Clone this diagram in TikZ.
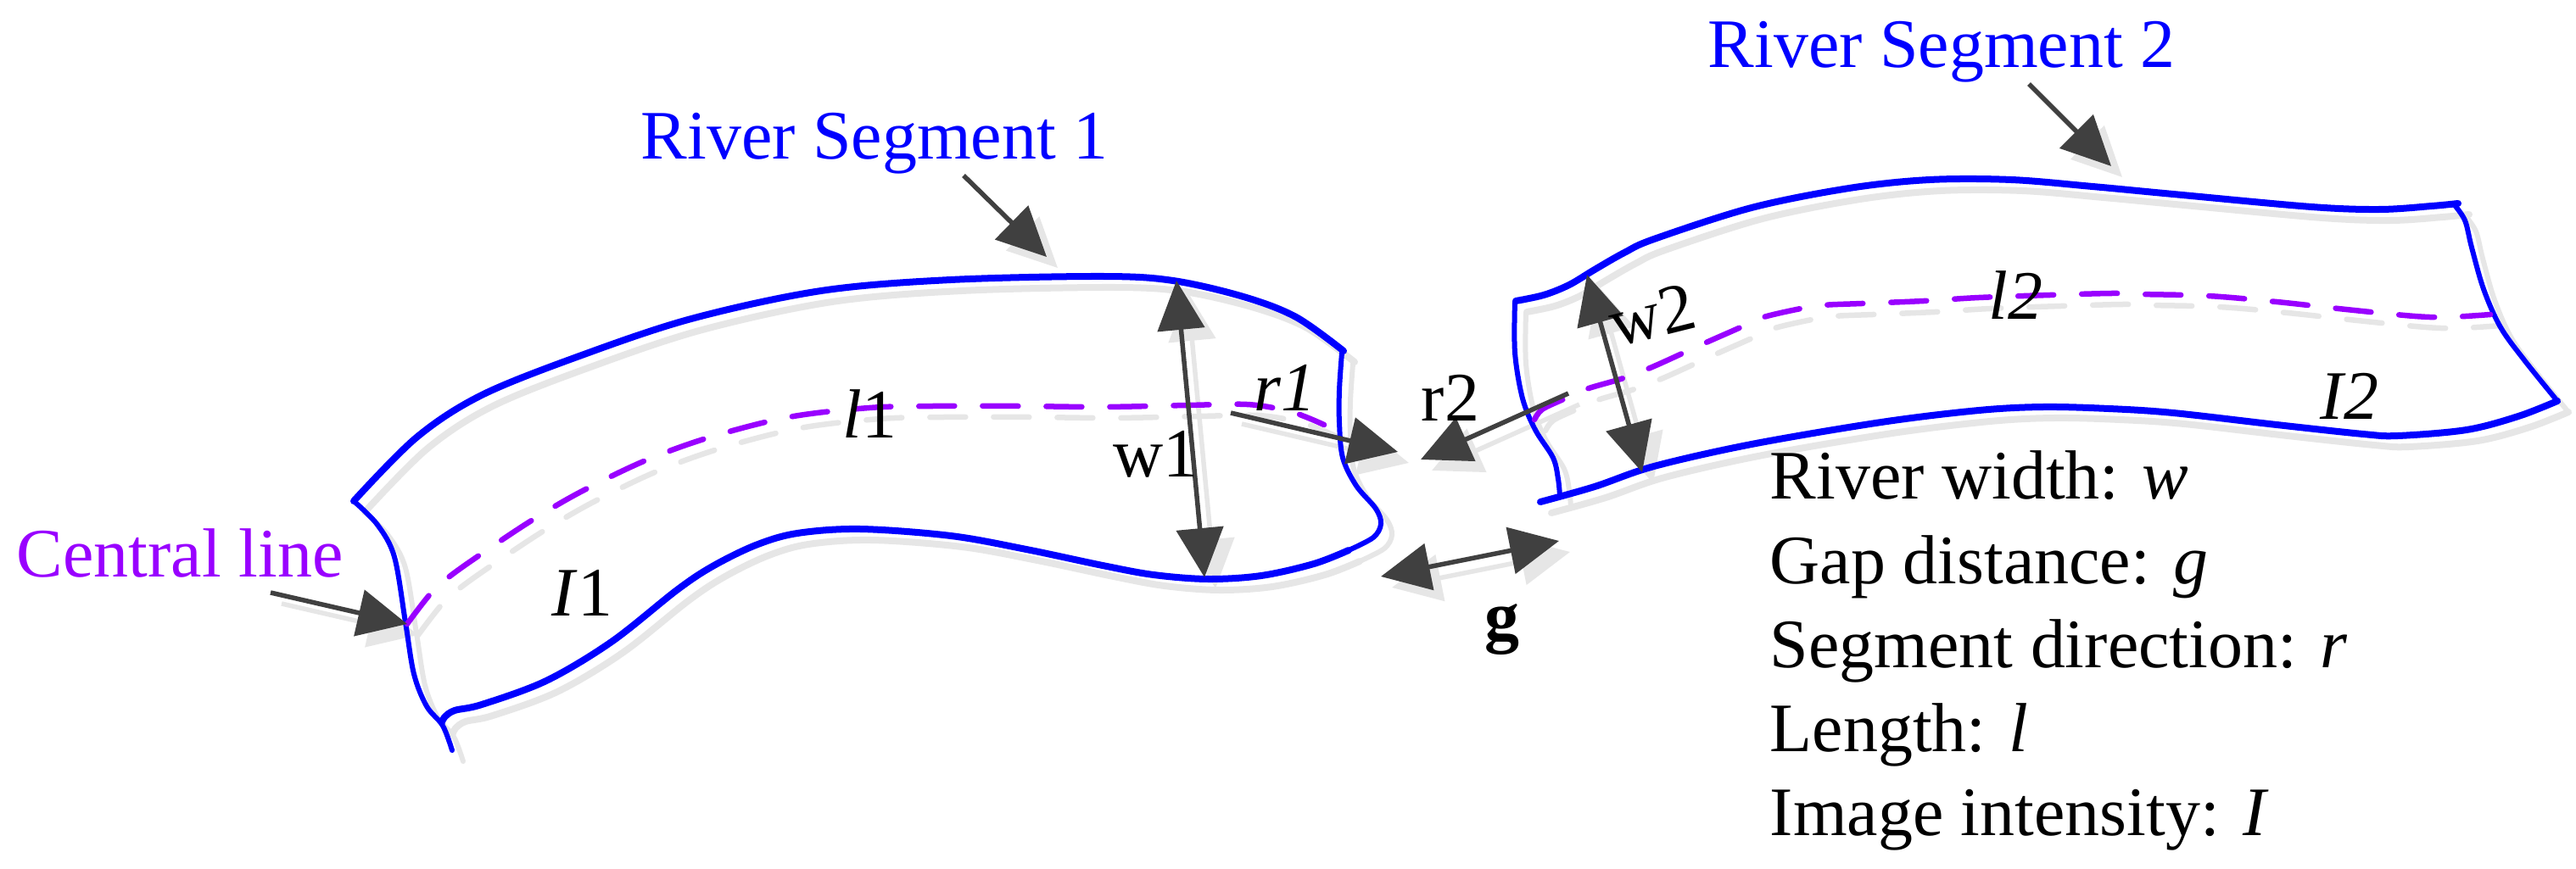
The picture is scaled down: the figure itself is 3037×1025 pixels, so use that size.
\documentclass[tikz,border=0pt]{standalone}
\usepackage{fontspec}
\setmainfont{Liberation Serif}
\usetikzlibrary{arrows.meta}
\definecolor{rblue}{RGB}{0,0,255}
\definecolor{cpurp}{RGB}{153,0,255}
\definecolor{agray}{RGB}{64,64,64}
\definecolor{shd}{RGB}{230,230,230}
\colorlet{cB}{rblue}\colorlet{cP}{cpurp}\colorlet{cA}{agray}
\newcommand{\lblfont}{\fontsize{23.3pt}{28pt}\selectfont}
\tikzset{
  thickedge/.style={draw=cB, line width=0.08cm, line cap=round, line join=round},
  thinedge/.style={draw=cB, line width=0.06cm, line cap=round, line join=round},
  cline/.style={draw=cP, line width=0.065cm, line cap=round, dash pattern=on 0.42cm off 0.33cm},
  arr/.style={draw=cA, line width=0.055cm, -{Triangle[length=0.58cm,width=0.55cm]}},
  darr/.style={draw=cA, line width=0.055cm, {Triangle[length=0.58cm,width=0.55cm]}-{Triangle[length=0.58cm,width=0.55cm]}},
  lbl/.style={inner sep=0pt, font=\lblfont, text=black},
}
\newcommand{\riverscene}{%
  % segment 1
  \draw[thickedge] plot[smooth,tension=0.55] coordinates {(417,591) (491,516) (568,466) (683,420) (815,376) (968,343) (1121,330) (1300,326) (1383,331) (1466,350) (1528,374) (1584,414)};
  \draw[thinedge] plot[smooth,tension=0.55] coordinates {(1582,416) (1579,460) (1579,499) (1583,540) (1599,573) (1622,600) (1628,618) (1619,634) (1590,649)};
  \draw[thickedge] plot[smooth,tension=0.55] coordinates {(1590,649) (1549,665) (1487,679) (1424,683) (1360,678) (1300,667) (1210,648) (1121,632) (1014,624) (940,629) (891,643) (840,668) (798,696) (721,757) (644,803) (568,831) (536,838) (524,846) (521,852)};
  \draw[thinedge] plot[smooth,tension=0.55] coordinates {(417,591) (445,619) (465,657) (478,734) (488,795) (503,833) (522,856) (533,885)};
  \draw[cline] plot[smooth,tension=0.55] coordinates {(480,736) (507,701) (530,680) (568,653) (625,615) (683,581) (759,544) (836,516) (930,492) (1025,481) (1100,479) (1200,479) (1300,480) (1400,478) (1470,477) (1516,484) (1540,492) (1561,501)};
  % segment 2
  \draw[thickedge] plot[smooth,tension=0.55] coordinates {(1787,355) (1820,348) (1850,336) (1880,318) (1915,298) (1950,282) (2065,245) (2180,222) (2275,212) (2371,212) (2467,220) (2562,229) (2725,244) (2806,247) (2867,243) (2898,240)};
  \draw[thinedge] plot[smooth,tension=0.55] coordinates {(2893,241) (2906,260) (2914,292) (2928,341) (2948,386) (2977,426) (3015,473)};
  \draw[thickedge] plot[smooth,tension=0.55] coordinates {(3015,473) (2969,491) (2908,507) (2827,514) (2786,512) (2684,501) (2562,487) (2486,482) (2409,480) (2333,484) (2218,498) (2065,524) (1950,550) (1880,574) (1816,592)};
  \draw[thinedge] plot[smooth,tension=0.55] coordinates {(1786,356) (1786,416) (1795,470) (1810,507) (1831,540) (1837,565) (1839,585)};
  \draw[cline] plot[smooth,tension=0.55] coordinates {(1809,495) (1818,483) (1843,471) (1870,459) (1914,446) (1950,432) (2007,406) (2050,387) (2076,375) (2118,365) (2149,360) (2195,358) (2268,355) (2333,351) (2417,348) (2490,346) (2522,347) (2603,349) (2684,356) (2766,365) (2847,373) (2887,374) (2936,371)};
  % arrows
  \draw[arr] (a1s) -- (a1e);
  \draw[arr] (a2s) -- (a2e);
  \draw[arr] (acs) -- (ace);
  \draw[darr] (w1a) -- (w1b);
  \draw[arr] (r1s) -- (r1e);
  \draw[arr] (r2s) -- (r2e);
  \draw[darr] (w2a) -- (w2b);
  \draw[darr] (ga) -- (gb);
}
\begin{document}
\begin{tikzpicture}[x=0.01cm,y=-0.01cm]
\useasboundingbox (0,0) rectangle (3037,1025);
\coordinate (a1s) at (1136,207); \coordinate (a1e) at (1234,303);
\coordinate (a2s) at (2392,99);  \coordinate (a2e) at (2489,196);
\coordinate (acs) at (319,699);  \coordinate (ace) at (480,736);
\coordinate (w1a) at (1387,331); \coordinate (w1b) at (1420,681);
\coordinate (r1s) at (1451,487); \coordinate (r1e) at (1648,533);
\coordinate (r2s) at (1849,464); \coordinate (r2e) at (1675,542);
\coordinate (w2a) at (1871,324); \coordinate (w2b) at (1936,557);
\coordinate (ga) at (1628,680);  \coordinate (gb) at (1838,638);
% shadows
\begin{scope}[transform canvas={shift={(13,13)}}]
  \colorlet{cB}{shd}\colorlet{cP}{shd}\colorlet{cA}{shd}
  \riverscene
\end{scope}
% main drawing
\begin{scope}
  \riverscene
\end{scope}
% labels
\node[lbl, text=rblue, anchor=base west] (trs1) at (755,188) {River Segment 1};
\node[lbl, text=rblue, anchor=base west] (trs2) at (2013,80) {River Segment 2};
\node[lbl, text=cpurp, anchor=base east] (tcl) at (405,680) {Central line};
\node[lbl, anchor=base west] (tl1) at (993,517) {\textit{l}1};
\node[lbl, anchor=base west] (tw1) at (1312,563) {w1};
\node[lbl, anchor=base west] (tI1) at (650,726) {\textit{I}1};
\node[lbl, anchor=base west] (tr1) at (1478,485) {\textit{r1}};
\node[lbl, anchor=base west] (tr2) at (1675,497) {r2};
\node[lbl, anchor=base west] (tg) at (1750,754) {\textbf{g}};
\node[lbl, anchor=base west, rotate=14] (tw2) at (1905,410) {w2};
\node[lbl, anchor=base west] (tl2) at (2344,377) {\textit{l2}};
\node[lbl, anchor=base west] (tI2) at (2735,495) {\textit{I2}};
\node[lbl, anchor=base west] (leg1) at (2086,589) {River width: \textit{w}};
\node[lbl, anchor=base west] (leg2) at (2086,688) {Gap distance: \textit{g}};
\node[lbl, anchor=base west] (leg3) at (2086,787) {Segment direction: \textit{r}};
\node[lbl, anchor=base west] (leg4) at (2086,886) {Length: \textit{l}};
\node[lbl, anchor=base west] (leg5) at (2086,985) {Image intensity: \textit{I}};
\end{tikzpicture}
\end{document}
